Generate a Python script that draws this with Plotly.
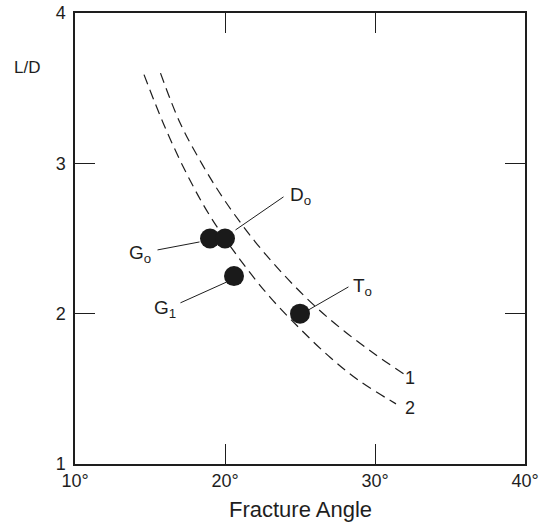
import plotly.graph_objects as go

# ---- data ----
curve1_angle = [15.7, 17.0, 18.5, 20.0, 22.0, 24.0, 26.0, 28.0, 30.0, 31.9]
curve1_ld = [3.60, 3.27, 2.99, 2.75, 2.48, 2.25, 2.05, 1.88, 1.73, 1.60]
curve2_angle = [14.6, 16.0, 17.5, 19.0, 21.0, 23.0, 25.0, 27.0, 29.0, 31.4]
curve2_ld = [3.59, 3.24, 2.92, 2.65, 2.36, 2.11, 1.90, 1.71, 1.55, 1.40]

point_names = ["G<sub>o</sub>", "D<sub>o</sub>", "G<sub>1</sub>", "T<sub>o</sub>"]
point_angle = [19.0, 20.0, 20.6, 25.0]
point_ld = [2.5, 2.5, 2.25, 2.0]

x_ticks = [10, 20, 30, 40]
x_ticktext = ["10°", "20°", "30°", "40°"]
y_ticks = [1, 2, 3, 4]

curve_labels = ["1", "2"]

# label placement (text position, leader tail, leader head) in data units
label_text_pos = [(14.3, 2.40), (25.0, 2.78), (16.0, 2.03), (29.15, 2.18)]
leader_tail = [(15.5, 2.424), (23.9, 2.777), (17.03, 2.072), (28.23, 2.178)]
leader_head = [(18.3, 2.477), (20.7, 2.557), (20.1, 2.21), (25.57, 2.025)]
curve_label_pos = [(32.3, 1.574), (32.3, 1.374)]

FONT = "Liberation Sans, Arial, sans-serif"
INK = "#1e1e1e"

# plot area in pixels (for placing the free texts)
PL, PR, PT, PB = 75, 525, 13, 464

fig = go.Figure()
for xs, ys in [(curve1_angle, curve1_ld), (curve2_angle, curve2_ld)]:
    fig.add_trace(go.Scatter(
        x=xs, y=ys, mode="lines",
        line=dict(color=INK, width=1.2, dash="10px,6px", shape="spline", smoothing=1.0),
        hoverinfo="skip", showlegend=False))

fig.add_trace(go.Scatter(
    x=point_angle, y=point_ld, mode="markers",
    marker=dict(size=20, color="#1a1a1a", line=dict(width=0)),
    showlegend=False, hoverinfo="skip"))

for (tx, ty), (hx, hy) in zip(leader_tail, leader_head):
    fig.add_shape(type="line", x0=tx, y0=ty, x1=hx, y1=hy, xref="x", yref="y",
                  line=dict(color=INK, width=1))

for name, (lx, ly) in zip(point_names, label_text_pos):
    fig.add_annotation(x=lx, y=ly, text=name, showarrow=False, xref="x", yref="y",
                       font=dict(family=FONT, size=19, color=INK))

for name, (lx, ly) in zip(curve_labels, curve_label_pos):
    fig.add_annotation(x=lx, y=ly, text=name, showarrow=False, xref="x", yref="y",
                       font=dict(family=FONT, size=18, color=INK))

fig.add_annotation(xref="paper", yref="paper", text="L/D", showarrow=False,
                   x=(27 - PL) / (PR - PL), y=(PB - 67) / (PB - PT),
                   xanchor="center", yanchor="middle",
                   font=dict(family=FONT, size=17, color=INK))

fig.add_annotation(xref="paper", yref="paper", text="Fracture Angle", showarrow=False,
                   x=0.5, y=(PB - 509) / (PB - PT), xanchor="center", yanchor="middle",
                   font=dict(family=FONT, size=22, color=INK))

axis_common = dict(showgrid=False, zeroline=False, showline=True, linecolor=INK, linewidth=1.5,
                   mirror="ticks", ticks="inside", ticklen=20, tickwidth=1.2, tickcolor=INK,
                   tickfont=dict(family=FONT, size=18, color=INK), automargin=False)

fig.update_xaxes(range=[10, 40], tickvals=x_ticks, ticktext=x_ticktext, **axis_common)
fig.update_yaxes(range=[1, 4], tickvals=y_ticks, ticklabelstandoff=4, **axis_common)

fig.update_layout(width=543, height=523, margin=dict(l=PL, r=543 - PR, t=PT, b=523 - PB),
                  plot_bgcolor="white", paper_bgcolor="white",
                  font=dict(family=FONT, color=INK))

fig.write_html("out.html")
